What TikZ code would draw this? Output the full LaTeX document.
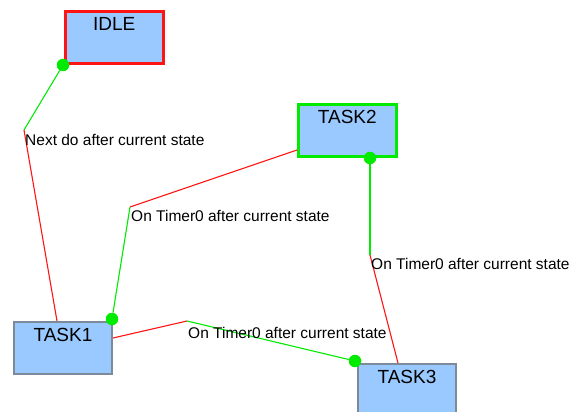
\documentclass[tikz,border=0pt]{standalone}
\usepackage{fontspec}
\setmainfont{Liberation Sans}
\definecolor{boxblue}{RGB}{153,201,255}
\definecolor{linered}{RGB}{255,20,20}
\definecolor{linegreen}{RGB}{0,235,0}
\definecolor{boxgray}{RGB}{125,138,152}
\tikzset{
  statebox/.style={draw, fill=boxblue, anchor=north west, minimum width=98pt,
    text height=13pt, text depth=27pt, inner ysep=6pt, inner xsep=0pt,
    font=\fontsize{19}{19}\selectfont},
  translabel/.style={anchor=north west, inner sep=1pt, font=\fontsize{15.5}{16}\selectfont},
  enddot/.style={circle, fill=linegreen, minimum size=12.5pt, inner sep=0pt},
  redline/.style={draw=linered, line width=1.1pt},
  greenline/.style={draw=linegreen, line width=1.1pt}
}
\begin{document}
\begin{tikzpicture}[x=1pt,y=-1pt]
\useasboundingbox[fill=white] (0,0) rectangle (579,412);
% states
\node[statebox, draw=linered, line width=2.6pt] (idle) at (64,10) {IDLE};
\node[statebox, draw=linegreen, line width=2.6pt] (task2) at (297,103) {TASK2};
\node[statebox, draw=boxgray, line width=2pt] (task1) at (13,321) {TASK1};
\node[statebox, draw=boxgray, line width=2pt] (task3) at (357,363) {TASK3};
% end dots
\node[enddot] (dotidle) at (63,65) {};
\node[enddot] (dottask2) at (370,158) {};
\node[enddot] (dottask1) at (112,319) {};
\node[enddot] (dottask3) at (355,361) {};
% bend points of the transitions
\coordinate (bnext) at (24,130);
\coordinate (btimera) at (130,207);
\coordinate (btimerb) at (187,321);
\coordinate (btimerc) at (370,255);
% IDLE -> TASK1
\draw[greenline] (dotidle) -- (bnext);
\draw[redline] (bnext) -- (task1.north west -| 57,0);
\node[translabel] (lnext) at ([yshift=-3pt]bnext) {Next do after current state};
% TASK2 -> TASK1
\draw[redline] (task2.south west |- 0,150) -- (btimera);
\draw[greenline] (btimera) -- (dottask1);
\node[translabel] (ltimera) at ([yshift=-2pt]btimera) {On Timer0 after current state};
% TASK1 -> TASK3
\draw[redline] (task1.east |- 0,338) -- (btimerb);
\draw[greenline] (btimerb) -- (dottask3);
\node[translabel] (ltimerb) at ([yshift=-5pt]btimerb) {On Timer0 after current state};
% TASK2 -> TASK3
\draw[greenline] (dottask2) -- (btimerc);
\draw[redline] (btimerc) -- (task3.north west -| 398,0);
\node[translabel] (ltimerc) at ([yshift=-2pt]btimerc) {On Timer0 after current state};
\end{tikzpicture}
\end{document}
